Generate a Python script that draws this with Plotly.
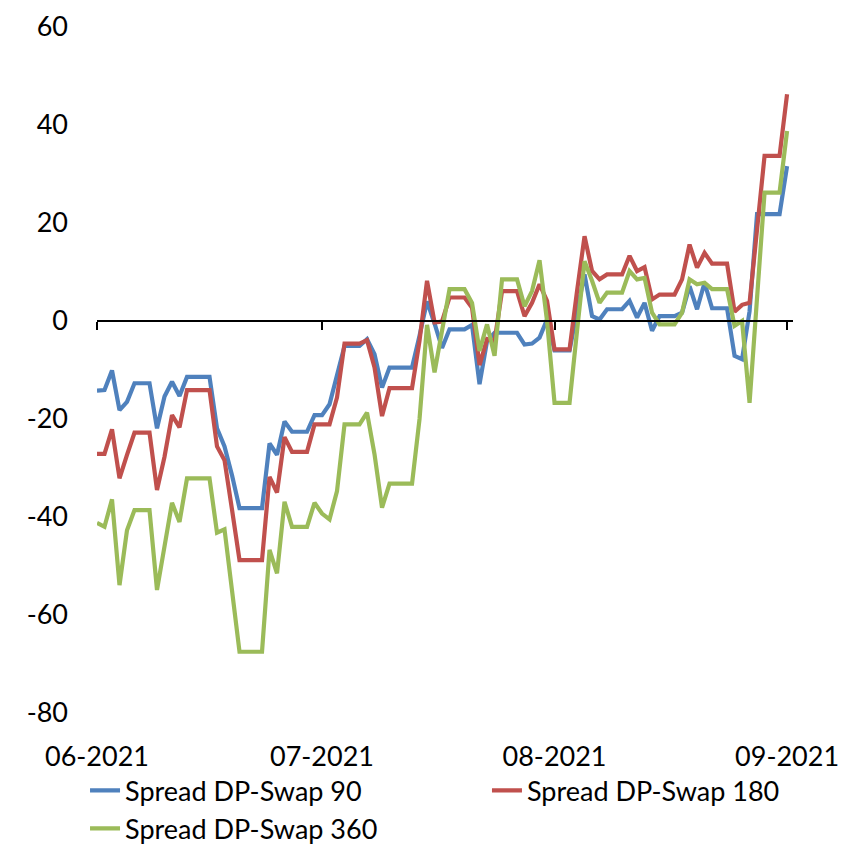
import pandas as pd
import plotly.graph_objects as go

start_date = "2021-06-01"
n_days = 93

spread_90 = [
    -14.2, -14.1, -10.1, -18.2, -16.5, -12.7, -12.7, -12.7, -21.9, -15.4,
    -12.4, -15.3, -11.4, -11.4, -11.4, -11.4, -21.9, -25.6, -31.5, -38.2,
    -38.2, -38.2, -38.2, -25.0, -27.3, -20.5, -22.6, -22.6, -22.6, -19.2,
    -19.2, -17.0, -11.0, -5.1, -5.1, -5.1, -3.7, -6.8, -13.6, -9.5,
    -9.5, -9.5, -9.5, -3.0, 4.0, -0.5, -5.5, -1.7, -1.7, -1.7,
    -0.8, -12.9, -4.1, -2.4, -2.4, -2.4, -2.4, -4.8, -4.6, -3.4,
    0.3, -6.0, -6.0, -6.0, 2.0, 9.5, 1.0, 0.3, 2.4, 2.4,
    2.4, 4.1, 0.7, 3.7, -2.0, 1.0, 1.0, 1.0, 1.7, 7.1,
    2.4, 7.8, 2.6, 2.6, 2.6, -7.1, -7.8, 2.0, 21.8, 21.8,
    21.8, 21.8, 31.6,
]

spread_180 = [
    -27.1, -27.1, -22.1, -32.1, -27.3, -22.8, -22.8, -22.8, -34.5, -27.7,
    -19.2, -21.7, -14.1, -14.1, -14.1, -14.1, -25.6, -28.4, -38.5, -48.8,
    -48.8, -48.8, -48.8, -31.8, -35.0, -23.7, -26.7, -26.7, -26.7, -21.1,
    -21.1, -21.1, -15.6, -4.6, -4.6, -4.6, -3.9, -9.5, -19.4, -13.7,
    -13.7, -13.7, -13.7, -4.0, 8.2, -0.3, -0.1, 4.8, 4.8, 4.8,
    2.7, -9.0, -3.7, -4.1, 6.1, 6.1, 6.1, 1.0, 3.7, 7.5,
    4.1, -5.8, -5.8, -5.8, 6.1, 17.3, 10.2, 8.5, 9.5, 9.5,
    9.5, 13.3, 10.2, 11.0, 4.4, 5.4, 5.4, 5.4, 8.5, 15.6,
    10.9, 13.9, 11.7, 11.7, 11.7, 1.9, 3.3, 3.7, 18.7, 33.7,
    33.7, 33.7, 46.3,
]

spread_360 = [
    -41.2, -42.0, -36.4, -53.9, -42.7, -38.6, -38.6, -38.6, -54.9, -46.0,
    -37.1, -41.0, -32.1, -32.1, -32.1, -32.1, -43.2, -42.5, -55.0, -67.5,
    -67.5, -67.5, -67.5, -46.7, -51.5, -36.9, -42.0, -42.0, -42.0, -37.1,
    -39.3, -40.5, -34.7, -21.1, -21.1, -21.1, -18.7, -27.2, -38.1, -33.2,
    -33.2, -33.2, -33.2, -20.0, -0.8, -10.5, -1.4, 6.5, 6.5, 6.5,
    3.7, -6.1, -0.7, -7.1, 8.5, 8.5, 8.5, 3.0, 6.1, 12.4,
    0.0, -16.7, -16.7, -16.7, -2.0, 12.2, 8.2, 3.7, 5.8, 5.8,
    5.8, 10.2, 8.5, 8.8, 1.7, -0.7, -0.7, -0.7, 1.7, 8.5,
    7.5, 7.8, 6.5, 6.5, 6.5, -1.0, 0.0, -16.7, 4.7, 26.2,
    26.2, 26.2, 38.8,
]

series_names = ["Spread DP-Swap 90", "Spread DP-Swap 180", "Spread DP-Swap 360"]
series_colors = ["#4F81BD", "#C0504D", "#9BBB59"]
series_legends = ["legend", "legend2", "legend"]
month_ticks = ["2021-06-01", "2021-07-01", "2021-08-01", "2021-09-01"]
month_labels = ["06-2021", "07-2021", "08-2021", "09-2021"]
y_ticks = [-80, -60, -40, -20, 0, 20, 40, 60]
y_labels = ["-80", "-60", "-40", "-20", "0", "20", "40", "60"]

dates = pd.date_range(start_date, periods=n_days, freq="D")

fig = go.Figure()
for name, vals, col, lg in zip(series_names, [spread_90, spread_180, spread_360],
                               series_colors, series_legends):
    fig.add_trace(go.Scatter(x=dates, y=vals, mode="lines", name=name, legend=lg,
                             line=dict(color=col, width=4.2)))

# empty helper trace so the zero-crossing axis (ticks at month starts) is drawn
fig.add_trace(go.Scatter(x=[dates[0]], y=[None], xaxis="x2", yaxis="y",
                         mode="lines", showlegend=False, hoverinfo="skip"))

font_family = "Lato, 'Open Sans', sans-serif"
x_range = ["2021-06-01", "2021-09-01 19:00"]
legend_style = dict(orientation="v", yanchor="top", xanchor="left",
                    font=dict(size=27, family=font_family, color="black"),
                    bgcolor="rgba(0,0,0,0)", tracegroupgap=0)

fig.update_layout(
    width=846, height=846,
    margin=dict(l=89, r=61, t=19, b=141, autoexpand=False),
    plot_bgcolor="white", paper_bgcolor="white",
    font=dict(family=font_family, size=27, color="black"),
    showlegend=True,
    legend=dict(x=-0.0172, y=-0.0776, **legend_style),
    legend2=dict(x=0.5603, y=-0.0776, **legend_style),
    xaxis=dict(type="date", range=x_range, tickvals=month_ticks, ticktext=month_labels,
               showgrid=False, zeroline=False, showline=False, ticks="",
               ticklabelstandoff=25, tickfont=dict(size=27)),
    xaxis2=dict(type="date", range=x_range, tickvals=month_ticks, overlaying="x",
                anchor="free", position=80 / 140, side="bottom",
                showline=True, linecolor="black", linewidth=1.5,
                ticks="outside", ticklen=8, tickwidth=1.5, tickcolor="black",
                showticklabels=False, showgrid=False, zeroline=False),
    yaxis=dict(range=[-80, 60], tickvals=y_ticks, ticktext=y_labels, showgrid=False,
               zeroline=False, showline=False, ticks="", ticklabelstandoff=28,
               tickfont=dict(size=27)),
)

fig.write_html("out.html")
